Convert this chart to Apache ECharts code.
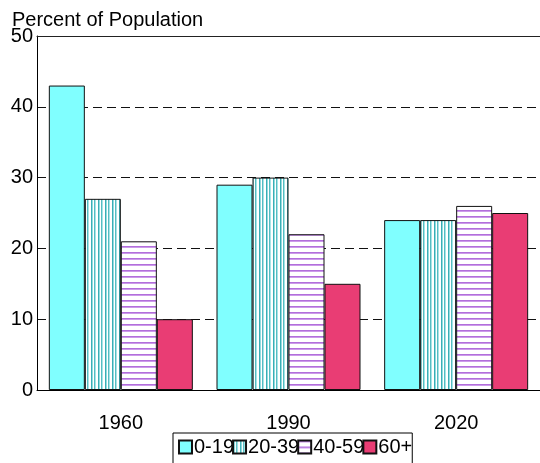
<!DOCTYPE html>
<html>
<head>
<meta charset="utf-8">
<script src="https://cdn.jsdelivr.net/npm/echarts@6/dist/echarts.min.js"></script>
<style>
html,body{margin:0;padding:0;background:#fff;}
#chart{width:540px;height:463px;}
</style>
</head>
<body>
<div id="chart"></div>
<script>
var categories = ['1960', '1990', '2020'];
var seriesNames = ['0-19', '20-39', '40-59', '60+'];
var values0_19 = [43, 29, 24];
var values20_39 = [27, 30, 24];
var values40_59 = [21, 22, 26];
var values60 = [10, 15, 25];
var yTicks = { min: 0, max: 50, interval: 10 };
var titleText = 'Percent of Population';

function makePattern(w, h, draw) {
  var c = document.createElement('canvas');
  c.width = w; c.height = h;
  var ctx = c.getContext('2d');
  ctx.fillStyle = '#ffffff';
  ctx.fillRect(0, 0, w, h);
  draw(ctx);
  return { image: c, repeat: 'repeat' };
}
var vStripes = makePattern(7, 4, function (ctx) {
  ctx.fillStyle = '#3aadb5'; ctx.fillRect(0, 0, 1, 4);
  ctx.fillStyle = '#92dcdf'; ctx.fillRect(1, 0, 1, 4);
  ctx.fillStyle = '#55bcc2'; ctx.fillRect(3, 0, 1, 4);
  ctx.fillStyle = '#a6e4e6'; ctx.fillRect(4, 0, 1, 4);
});
var hStripes = makePattern(4, 6, function (ctx) {
  ctx.fillStyle = '#b26fdb'; ctx.fillRect(0, 0, 4, 1);
  ctx.fillStyle = '#cc9aea'; ctx.fillRect(0, 1, 4, 1);
});

var fills = ['#80ffff', vStripes, hStripes, '#e93d74'];
var allValues = [values0_19, values20_39, values40_59, values60];
var FONT = "'Liberation Sans', Arial, sans-serif";

var series = seriesNames.map(function (name, i) {
  return {
    name: name,
    type: 'bar',
    data: allValues[i],
    barGap: '0%',
    barWidth: 36,
    itemStyle: { color: fills[i], borderColor: '#111', borderWidth: 1 }
  };
});

var chart = echarts.init(document.getElementById('chart'), null, { renderer: 'canvas' });
chart.setOption({
  animation: false,
  backgroundColor: '#ffffff',
  title: {
    text: titleText, left: 7, top: 5,
    textStyle: { fontFamily: FONT, fontSize: 20, fontWeight: 'normal', color: '#000' }
  },
  legend: {
    data: seriesNames,
    left: 173, top: 433,
    icon: 'rect',
    itemWidth: 13, itemHeight: 13, itemGap: -2,
    padding: [4, 0, 8, 5],
    borderColor: '#000', borderWidth: 1,
    textStyle: { fontFamily: FONT, fontSize: 20, color: '#000', padding: [0, 0, 0, -3] }
  },
  grid: { left: 37, top: 36, width: 507, height: 354, containLabel: false },
  xAxis: [{
    type: 'category', data: categories,
    axisLine: { show: true, lineStyle: { color: '#000', width: 1 } },
    axisTick: { show: false },
    axisLabel: { fontFamily: FONT, fontSize: 20, color: '#000', margin: 23 }
  }, {
    type: 'category', data: categories, position: 'top',
    axisLine: { show: true, lineStyle: { color: '#222', width: 1 } },
    axisTick: { show: false }, axisLabel: { show: false }
  }],
  yAxis: {
    type: 'value', min: yTicks.min, max: yTicks.max, interval: yTicks.interval,
    axisLine: { show: true, lineStyle: { color: '#000', width: 1 } },
    axisTick: { show: false },
    axisLabel: { fontFamily: FONT, fontSize: 20, color: '#000', margin: 4 },
    splitLine: { show: true, lineStyle: { color: '#111', type: [9, 5], width: 1 } }
  },
  series: series
});
</script>
</body>
</html>
